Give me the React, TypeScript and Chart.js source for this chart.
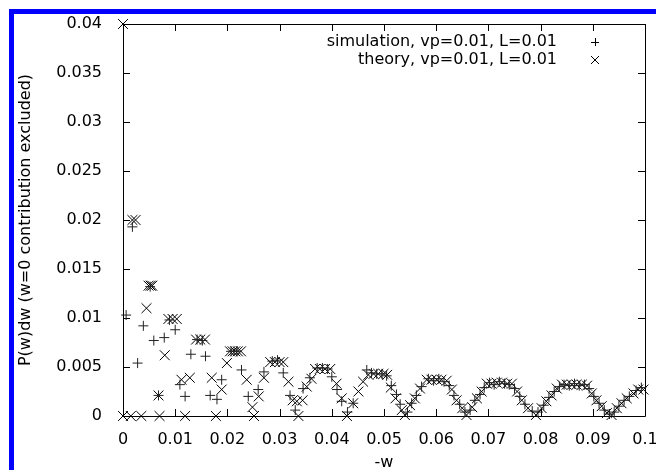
import React, { useEffect, useRef } from 'react';
import { Chart, registerables } from 'chart.js';

Chart.register(...registerables);

const xTickValues = [0, 0.01, 0.02, 0.03, 0.04, 0.05, 0.06, 0.07, 0.08, 0.09, 0.1];
const xTickLabels = ['0', '0.01', '0.02', '0.03', '0.04', '0.05', '0.06', '0.07', '0.08', '0.09', '0.1'];
const yTickValues = [0, 0.005, 0.01, 0.015, 0.02, 0.025, 0.03, 0.035, 0.04];
const yTickLabels = ['0', '0.005', '0.01', '0.015', '0.02', '0.025', '0.03', '0.035', '0.04'];
const seriesLabels = ['simulation, vp=0.01, L=0.01', 'theory, vp=0.01, L=0.01'];
const xTitle = '-w';
const yTitle = 'P(w)dw (w=0 contribution excluded)';

const simW = [0.0006, 0.0018, 0.0028, 0.0039, 0.0052, 0.0059, 0.0068, 0.0079, 0.0089, 0.01, 0.0109, 0.0119, 0.013, 0.0142, 0.0152, 0.0158, 0.0167, 0.018, 0.0189, 0.0207, 0.0218, 0.0227, 0.024, 0.0259, 0.027, 0.0286, 0.0296, 0.0307, 0.032, 0.033, 0.0345, 0.0358, 0.0372, 0.0382, 0.0392, 0.04, 0.041, 0.0419, 0.043, 0.0441, 0.0467, 0.0476, 0.0486, 0.0496, 0.0505, 0.0514, 0.0524, 0.0531, 0.0545, 0.0553, 0.0562, 0.0572, 0.0585, 0.0595, 0.0605, 0.0615, 0.0625, 0.0634, 0.0645, 0.0655, 0.0665, 0.0674, 0.0684, 0.0692, 0.0702, 0.0711, 0.0721, 0.0731, 0.074, 0.075, 0.076, 0.077, 0.0784, 0.0795, 0.0806, 0.0816, 0.0826, 0.0836, 0.0845, 0.0855, 0.0865, 0.0874, 0.0884, 0.0893, 0.0902, 0.0912, 0.0922, 0.0932, 0.0941, 0.095, 0.096, 0.097, 0.0983, 0.0993];
const simP = [0.0103, 0.0193, 0.0054, 0.0092, 0.0132, 0.0077, 0.0021, 0.008, 0.0098, 0.0088, 0.0032, 0.002, 0.0063, 0.0078, 0.0077, 0.0061, 0.0021, 0.0017, 0.0037, 0.0066, 0.0066, 0.0047, 0.002, 0.0027, 0.0045, 0.0056, 0.0057, 0.0044, 0.0021, 0.0006, 0.0028, 0.0039, 0.0049, 0.0049, 0.0048, 0.004, 0.0027, 0.0015, 0.0004, 0.0013, 0.0047, 0.0044, 0.0043, 0.0043, 0.0041, 0.0031, 0.0022, 0.0012, 0.0004, 0.0013, 0.0021, 0.003, 0.0038, 0.0036, 0.0038, 0.0035, 0.0031, 0.0021, 0.0012, 0.0004, 0.0006, 0.0016, 0.0022, 0.0029, 0.0034, 0.0032, 0.0035, 0.0033, 0.0032, 0.0028, 0.002, 0.0012, 0.0005, 0.0004, 0.0011, 0.0019, 0.0025, 0.003, 0.0032, 0.0031, 0.0033, 0.0031, 0.0032, 0.0028, 0.002, 0.0013, 0.0006, 0.0002, 0.0004, 0.001, 0.0016, 0.002, 0.0026, 0.0029];

const theoryW = [0, 0, 0.0015, 0.0018, 0.0024, 0.0035, 0.0045, 0.0049, 0.0053, 0.0056, 0.0068, 0.007, 0.008, 0.0087, 0.0095, 0.0103, 0.0112, 0.0119, 0.0128, 0.014, 0.0148, 0.0157, 0.017, 0.0178, 0.0189, 0.0199, 0.0205, 0.021, 0.0215, 0.022, 0.0226, 0.0237, 0.0248, 0.0251, 0.026, 0.027, 0.0282, 0.0291, 0.03, 0.0307, 0.0317, 0.0325, 0.0333, 0.0336, 0.0344, 0.0352, 0.0361, 0.0368, 0.0377, 0.0387, 0.0397, 0.0409, 0.0419, 0.0429, 0.0441, 0.0451, 0.046, 0.047, 0.048, 0.0489, 0.0499, 0.0506, 0.0513, 0.0522, 0.0534, 0.054, 0.055, 0.0559, 0.0569, 0.0582, 0.0591, 0.0601, 0.061, 0.062, 0.063, 0.0639, 0.065, 0.0658, 0.0669, 0.0678, 0.0687, 0.0697, 0.0706, 0.0716, 0.0726, 0.0736, 0.0745, 0.0755, 0.0764, 0.0776, 0.0791, 0.0802, 0.0811, 0.0821, 0.0831, 0.0841, 0.085, 0.086, 0.0869, 0.0879, 0.0889, 0.0898, 0.0907, 0.0917, 0.0927, 0.0936, 0.0946, 0.0955, 0.0965, 0.0978, 0.0987, 0.0997];
const theoryP = [0.04, 0, 0, 0.02, 0.02, 0, 0.011, 0.0133, 0.0133, 0.0133, 0.0021, 0, 0.0062, 0.0099, 0.0099, 0.0099, 0.0037, 0, 0.0039, 0.0078, 0.0078, 0.0078, 0.0039, 0, 0.0027, 0.0054, 0.0066, 0.0066, 0.0066, 0.0066, 0.0066, 0.0037, 0.0009, 0, 0.002, 0.0039, 0.0055, 0.0055, 0.0055, 0.0055, 0.0035, 0.0016, 0.0015, 0, 0.0016, 0.003, 0.0038, 0.0048, 0.0048, 0.0048, 0.0048, 0.0033, 0.0018, 0, 0.0013, 0.0025, 0.0035, 0.0042, 0.0043, 0.0043, 0.0043, 0.0042, 0.0029, 0.0018, 0.0006, 0.0001, 0.0011, 0.0018, 0.0028, 0.0037, 0.0037, 0.0037, 0.0037, 0.0036, 0.0027, 0.0016, 0.0008, 0.0001, 0.0009, 0.0018, 0.0025, 0.0033, 0.0033, 0.0034, 0.0034, 0.0033, 0.0033, 0.0025, 0.0016, 0.0008, 0.0001, 0.0008, 0.0015, 0.0021, 0.0028, 0.0032, 0.0032, 0.0032, 0.0032, 0.0032, 0.0031, 0.0023, 0.0016, 0.001, 0.0003, 0.0001, 0.0008, 0.0013, 0.0018, 0.0023, 0.0027, 0.0027];

const FONT = '"DejaVu Sans", "Liberation Sans", Arial, sans-serif';

const framePlugin = {
  id: 'gnuplotFrame',
  beforeDatasetsDraw(chart: any) {
    const { ctx, chartArea } = chart;
    const { left, right, top, bottom } = chartArea;
    const xs = chart.scales.x;
    const ys = chart.scales.y;
    const tl = 7;
    ctx.save();
    ctx.strokeStyle = '#000';
    ctx.lineWidth = 1;
    ctx.beginPath();
    ctx.rect(Math.round(left) + 0.5, Math.round(top) + 0.5, Math.round(right - left), Math.round(bottom - top));
    ctx.stroke();
    ctx.beginPath();
    xTickValues.forEach((v) => {
      const px = Math.round(xs.getPixelForValue(v)) + 0.5;
      ctx.moveTo(px, bottom);
      ctx.lineTo(px, bottom - tl);
      ctx.moveTo(px, top);
      ctx.lineTo(px, top + tl);
    });
    yTickValues.forEach((v) => {
      const py = Math.round(ys.getPixelForValue(v)) + 0.5;
      ctx.moveTo(left, py);
      ctx.lineTo(left + tl, py);
      ctx.moveTo(right, py);
      ctx.lineTo(right - tl, py);
    });
    ctx.stroke();
    ctx.restore();
  },
  afterDraw(chart: any) {
    const { ctx } = chart;
    ctx.save();
    ctx.font = '16px ' + FONT;
    ctx.fillStyle = '#000';
    ctx.textAlign = 'right';
    ctx.textBaseline = 'middle';
    const textRight = 557;
    const markX = 595;
    const rows = [42, 60];
    seriesLabels.forEach((lab, i) => {
      const y = rows[i];
      ctx.fillText(lab, textRight, y);
      ctx.strokeStyle = '#000';
      ctx.lineWidth = 1;
      ctx.beginPath();
      if (i === 0) {
        ctx.moveTo(markX - 4, y + 0.5);
        ctx.lineTo(markX + 4, y + 0.5);
        ctx.moveTo(markX + 0.5, y - 4);
        ctx.lineTo(markX + 0.5, y + 4);
      } else {
        ctx.moveTo(markX - 4, y - 4);
        ctx.lineTo(markX + 4, y + 4);
        ctx.moveTo(markX - 4, y + 4);
        ctx.lineTo(markX + 4, y - 4);
      }
      ctx.stroke();
    });
    ctx.restore();
  },
};

export default function App() {
  const ref = useRef<HTMLCanvasElement | null>(null);

  useEffect(() => {
    if (!ref.current) return;
    const simData = simW.map((w, i) => ({ x: w, y: simP[i] }));
    const theoryData = theoryW.map((w, i) => ({ x: w, y: theoryP[i] }));
    const chart = new Chart(ref.current, {
      type: 'scatter',
      data: {
        datasets: [
          {
            label: seriesLabels[0],
            data: simData,
            pointStyle: 'cross',
            pointRadius: 5,
            borderColor: '#222',
            backgroundColor: '#222',
            borderWidth: 1,
            clip: false,
          } as any,
          {
            label: seriesLabels[1],
            data: theoryData,
            pointStyle: 'crossRot',
            pointRadius: 7,
            borderColor: '#000',
            backgroundColor: '#000',
            borderWidth: 1,
            clip: false,
          } as any,
        ],
      },
      plugins: [framePlugin],
      options: {
        animation: false,
        responsive: false,
        maintainAspectRatio: false,
        layout: { padding: { top: 24, right: 11, left: 0, bottom: 0 } },
        plugins: { legend: { display: false }, tooltip: { enabled: false } },
        scales: {
          x: {
            type: 'linear',
            min: 0,
            max: 0.1,
            grid: { display: false },
            border: { display: false },
            afterBuildTicks: (s: any) => {
              s.ticks = xTickValues.map((v) => ({ value: v }));
            },
            afterFit: (s: any) => {
              s.height = 54;
              s.paddingLeft = 0;
              s.paddingRight = 0;
            },
            ticks: {
              autoSkip: false,
              maxRotation: 0,
              padding: 6,
              color: '#000',
              font: { family: FONT, size: 16 },
              callback: (_v: any, i: number) => xTickLabels[i],
            },
            title: {
              display: true,
              text: xTitle,
              color: '#000',
              font: { family: FONT, size: 16, lineHeight: 1 },
              padding: { top: 0, bottom: -1 },
            },
          },
          y: {
            type: 'linear',
            min: 0,
            max: 0.04,
            grid: { display: false },
            border: { display: false },
            afterBuildTicks: (s: any) => {
              s.ticks = yTickValues.map((v) => ({ value: v }));
            },
            afterFit: (s: any) => {
              s.width = 123;
              s.paddingTop = 0;
              s.paddingBottom = 0;
            },
            ticks: {
              autoSkip: false,
              padding: 13,
              color: '#000',
              font: { family: FONT, size: 16 },
              callback: (_v: any, i: number) => yTickLabels[i],
            },
            title: {
              display: true,
              text: yTitle,
              color: '#000',
              font: { family: FONT, size: 16, lineHeight: 1 },
              padding: { top: 18, bottom: 0 },
            },
          },
        },
      },
    } as any);
    return () => chart.destroy();
  }, []);

  return (
    <>
      <canvas
        ref={ref}
        width={656}
        height={470}
        style={{ position: 'fixed', left: 0, top: 0, width: 656, height: 470, background: '#fff' }}
      />
      <div
        style={{
          position: 'fixed',
          left: 9,
          top: 9,
          right: 0,
          bottom: 0,
          borderTop: '5px solid #0000ff',
          borderLeft: '5px solid #0000ff',
          pointerEvents: 'none',
        }}
      />
    </>
  );
}
